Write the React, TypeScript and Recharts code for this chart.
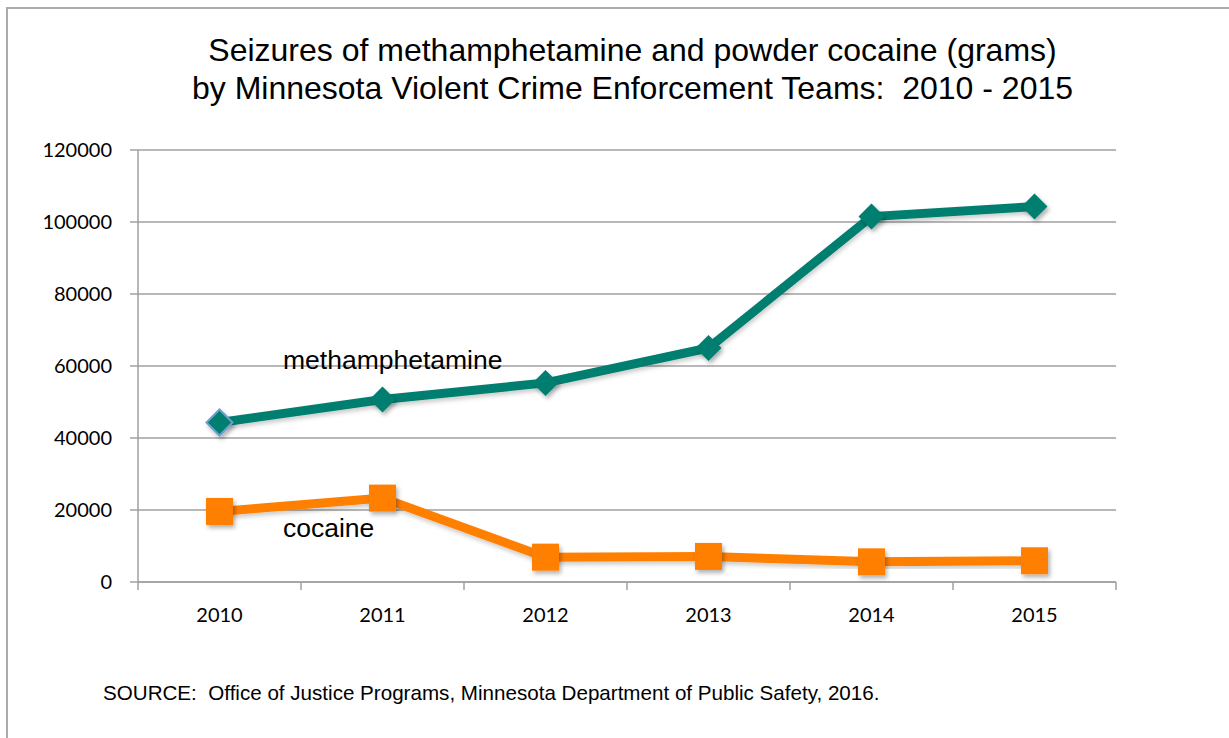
import React from 'react';
import { LineChart, Line, XAxis, YAxis, CartesianGrid } from 'recharts';

const years = ['2010', '2011', '2012', '2013', '2014', '2015'];
const methValues = [44300, 50700, 55300, 65000, 101500, 104300];
const cocaineValues = [19600, 23300, 6900, 7100, 5600, 5900];
const yTicks = [0, 20000, 40000, 60000, 80000, 100000, 120000];

const titleLines = [
  'Seizures of methamphetamine and powder cocaine (grams)',
  'by Minnesota Violent Crime Enforcement Teams:  2010 - 2015',
];
const sourceText = 'SOURCE:  Office of Justice Programs, Minnesota Department of Public Safety, 2016.';

const data = years.map((y, i) => ({ year: y, meth: methValues[i], cocaine: cocaineValues[i] }));

const TEAL = '#007f70';
const ORANGE = '#ff7f00';
const GRID = '#a0a0a0';

const W = 1229;
const H = 738;
const PLOT_LEFT = 138;
const PLOT_RIGHT = 1116;
const PLOT_TOP = 150;
const PLOT_BOTTOM = 582;
const BAND = (PLOT_RIGHT - PLOT_LEFT) / years.length;

const Diamond = (props: any) => {
  const { cx, cy, index } = props;
  if (cx == null || cy == null) return null;
  const r = 13;
  return (
    <path
      key={`d-${index}`}
      d={`M${cx},${cy - r} L${cx + r},${cy} L${cx},${cy + r} L${cx - r},${cy} Z`}
      fill={TEAL}
      stroke={index === 0 ? '#6d9bd5' : TEAL}
      strokeWidth={index === 0 ? 2 : 0}
      filter="url(#dropShadow)"
    />
  );
};

const Square = (props: any) => {
  const { cx, cy, index } = props;
  if (cx == null || cy == null) return null;
  const s = 27;
  return (
    <rect
      key={`s-${index}`}
      x={cx - s / 2}
      y={cy - s / 2}
      width={s}
      height={s}
      fill={ORANGE}
      filter="url(#dropShadow)"
    />
  );
};

const XTick = (props: any) => {
  const { x, y, payload, index } = props;
  const axisY = y - 8;
  const half = BAND / 2;
  return (
    <g>
      <line x1={x - half} y1={axisY} x2={x - half} y2={axisY + 8} stroke={GRID} strokeWidth={1.5} />
      {index === years.length - 1 && (
        <line x1={x + half} y1={axisY} x2={x + half} y2={axisY + 8} stroke={GRID} strokeWidth={1.5} />
      )}
      <text
        x={x}
        y={y + 24}
        textAnchor="middle"
        dominantBaseline="central"
        fontFamily="Lato, 'Open Sans', sans-serif"
        fontSize={20}
        fill="#000"
      >
        {payload.value}
      </text>
    </g>
  );
};

const labelStyle: React.CSSProperties = {
  position: 'absolute',
  left: 283,
  fontFamily: "'Liberation Sans', Arial, sans-serif",
  fontSize: 26.5,
  lineHeight: '30px',
  color: '#000',
  whiteSpace: 'pre',
};

export default function App() {
  return (
    <div style={{ position: 'absolute', left: 0, top: 0, width: W, height: H, background: '#fff', overflow: 'hidden' }}>
      <svg width={0} height={0} style={{ position: 'absolute' }}>
        <defs>
          <filter id="dropShadow" x="-50%" y="-50%" width="200%" height="200%">
            <feDropShadow dx="2" dy="3" stdDeviation="2" floodColor="#000" floodOpacity="0.3" />
          </filter>
          <filter id="lineShadow" x="-10%" y="-10%" width="120%" height="120%">
            <feDropShadow dx="1" dy="3" stdDeviation="2" floodColor="#000" floodOpacity="0.2" />
          </filter>
        </defs>
      </svg>
      <div
        style={{
          position: 'absolute',
          left: 6,
          top: 7,
          width: W,
          height: H,
          borderLeft: '2px solid #ababab',
          borderTop: '2px solid #ababab',
          boxSizing: 'border-box',
        }}
      />
      <div
        style={{
          position: 'absolute',
          left: 0,
          width: 1265,
          top: 31,
          textAlign: 'center',
          fontFamily: "'Liberation Sans', Arial, sans-serif",
          fontSize: 32,
          lineHeight: '38px',
          color: '#000',
        }}
      >
        {titleLines.map((t) => (
          <div key={t} style={{ whiteSpace: 'pre' }}>{t}</div>
        ))}
      </div>
      <div style={{ position: 'absolute', left: 0, top: 0 }}>
        <LineChart
          width={W}
          height={H}
          data={data}
          margin={{ top: PLOT_TOP, right: W - PLOT_RIGHT, bottom: H - PLOT_BOTTOM - 40, left: PLOT_LEFT - 60 }}
        >
          <CartesianGrid vertical={false} stroke={GRID} strokeWidth={1.5} />
          <XAxis
            dataKey="year"
            padding={{ left: BAND / 2, right: BAND / 2 }}
            height={40}
            tickLine={false}
            tickSize={8}
            tickMargin={0}
            axisLine={{ stroke: GRID, strokeWidth: 1.5 }}
            tick={<XTick />}
            interval={0}
          />
          <YAxis
            width={60}
            domain={[0, 120000]}
            ticks={yTicks}
            interval={0}
            tickSize={8}
            tickMargin={18}
            tickLine={{ stroke: GRID, strokeWidth: 1.5 }}
            axisLine={{ stroke: GRID, strokeWidth: 1.5 }}
            tick={{ fontFamily: "Lato, 'Open Sans', sans-serif", fontSize: 20, fill: '#000' }}
          />
          <Line
            dataKey="cocaine"
            stroke={ORANGE}
            strokeWidth={9}
            dot={<Square />}
            activeDot={false}
            isAnimationActive={false}
            style={{ filter: 'url(#lineShadow)' }}
          />
          <Line
            dataKey="meth"
            stroke={TEAL}
            strokeWidth={9}
            dot={<Diamond />}
            activeDot={false}
            isAnimationActive={false}
            style={{ filter: 'url(#lineShadow)' }}
          />
        </LineChart>
      </div>
      <div style={{ ...labelStyle, top: 345 }}>methamphetamine</div>
      <div style={{ ...labelStyle, top: 513 }}>cocaine</div>
      <div
        style={{
          position: 'absolute',
          left: 103,
          top: 682,
          fontFamily: "'Liberation Sans', Arial, sans-serif",
          fontSize: 20.6,
          lineHeight: '22px',
          color: '#000',
          whiteSpace: 'pre',
        }}
      >
        {sourceText}
      </div>
    </div>
  );
}
